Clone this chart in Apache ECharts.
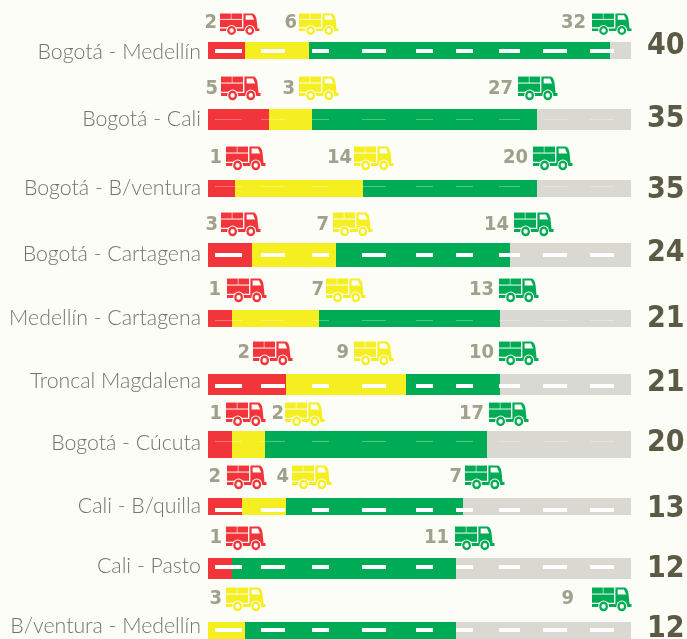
<!DOCTYPE html>
<html>
<head>
<meta charset="utf-8">
<title>Rutas</title>
<style>
  html, body { margin: 0; padding: 0; background: #fcfdf7; }
  #chart { width: 687px; height: 639px; }
</style>
<script src="https://cdn.jsdelivr.net/npm/echarts@6/dist/echarts.min.js"></script>
</head>
<body>
<div id="chart"></div>
<script>
// routes, top to bottom
const routes = ["Bogotá - Medellín", "Bogotá - Cali", "Bogotá - B/ventura", "Bogotá - Cartagena",
  "Medellín - Cartagena", "Troncal Magdalena", "Bogotá - Cúcuta", "Cali - B/quilla", "Cali - Pasto", "B/ventura - Medellín"];
const totals = [40, 35, 35, 24, 21, 21, 20, 13, 12, 12];

// truck counts printed above the road
const redTrucks = [2, 5, 1, 3, 1, 2, 1, 2, 1, null];
const yellowTrucks = [6, 3, 14, 7, 7, 9, 2, 4, null, 3];
const greenTrucks = [32, 27, 20, 14, 13, 10, 17, 7, 11, 9];

// road segment lengths, axis runs 0-423
const redRoad = [37, 61, 27, 44, 24, 78, 24, 34, 24, 0];
const yellowRoad = [64, 43, 128, 84, 87, 120, 33, 44, 0, 37];
const greenRoad = [301, 225, 174, 174, 181, 94, 222, 177, 224, 211];
const greyRoad = [21, 94, 94, 121, 131, 131, 144, 168, 175, 175];

const COLORS = { red: "#f2353b", yellow: "#f5ee21", green: "#00ab55", grey: "#d9d9d2" };
const BG = "#fcfdf7";

// layout of each row, not data
const rowShift = [0, 4.56, 9.11, 11.17, 10.22, 11.78, 7.33, 4.89, 2.44, 0];
const rowHeight = [17, 21, 17, 24, 17, 21, 27, 17, 21, 17];
const thickDash = [true, false, false, true, false, true, false, true, true, true];
const dashShift = [0.5, 0, -2, 0, 2, 1.5, -3, 3.5, -1.5, -0.5];
const dashFrom = [7, 53, 104, 154, 208, 248, 291, 335, 382];
const dashTo = [34, 77, 121, 178, 225, 265, 312, 359, 406];
const labelShift = [1.5, -0.5, 0, -1, -0.5, -3.5, -1.5, 0, -2.5, -4.5];
const totalShift = [-4.5, -0.5, 1.5, -2, 0.5, -1.5, -1.5, 2.5, 0.5, -1.5];
const truckShift = [-37.5, -43.5, -42.5, -43, -40.5, -43.5, -42.5, -41.5, -42.5, -43.5];
const truckStretch = [1, 1.11, 1.11, 1.11, 1.11, 1.11, 1.11, 1.11, 1.11, 1.11];
const digitDrop = [10, 12.5, 12, 12.5, 12, 12, 12, 12, 12, 12];

// where trucks and their numbers sit, measured along the road
const redTruckAt = [12, 13, 18, 13, 19, 45, 18, 19, 18, null];
const yellowTruckAt = [91, 91, 146, 125, 118, 146, 77, 84, null, 18];
const greenTruckAt = [384, 310, 325, 306, 291, 291, 281, 257, 247, 384];
const redDigitAt = [9, 10, 14, 10, 13, 42, 14, 13, 14, null];
const yellowDigitAt = [89, 87, 144, 121, 116, 141, 76, 81, null, 14];
const greenDigitAt = [378, 305, 320, 301, 286, 286, 276, 254, 241, 366];

const DIGIT_COLOR = "#a0a08c";
const TOTAL_COLOR = "#5b5a45";
const LABEL_COLOR = "#74746a";
const TOTAL_X = 439;  // along the axis, past the road end
const LABEL_X = -7;

function rowY(api, i) {
  return api.coord([0, i])[1] + rowShift[i];
}

function roadSeries(name, values, starts, color) {
  return {
    name,
    type: "custom",
    silent: true,
    data: values.map((v, i) => [starts[i], v, i]),
    renderItem(params, api) {
      const i = api.value(2);
      if (!api.value(1)) return null;
      const x0 = api.coord([api.value(0), i])[0];
      const x1 = api.coord([api.value(0) + api.value(1), i])[0];
      return {
        type: "rect",
        shape: { x: x0, y: Math.round(rowY(api, i) - rowHeight[i] / 2), width: x1 - x0, height: rowHeight[i] },
        style: { fill: color },
      };
    },
  };
}

function truck(x, y, stretch, color) {
  const wheel = (cx) => [
    { type: "circle", shape: { cx, cy: 17.5, r: 5.4 }, style: { fill: BG } },
    { type: "ring", shape: { cx, cy: 17.5, r: 4.4, r0: 2.2 }, style: { fill: color } },
  ];
  return {
    type: "group",
    x,
    y,
    scaleY: stretch,
    children: [
      { type: "rect", shape: { x: 0, y: 0.5, width: 10.8, height: 5.4 }, style: { fill: color } },
      { type: "rect", shape: { x: 11.4, y: 0.5, width: 10.6, height: 5.4 }, style: { fill: color } },
      { type: "rect", shape: { x: 0, y: 6.8, width: 22, height: 7.4 }, style: { fill: color } },
      { type: "rect", shape: { x: 0, y: 15.4, width: 39.5, height: 2.6 }, style: { fill: color } },
      {
        type: "path",
        shape: { pathData: "M23.4 0.5 L33 0.5 Q35.5 1.5 36.5 6 L37.6 16 L23.4 16 Z", layout: "none" },
        style: { fill: color },
      },
      {
        type: "path",
        shape: { pathData: "M25.6 2.2 L32 2.2 L34.2 6.8 L25.6 6.8 Z", layout: "none" },
        style: { fill: BG },
      },
      ...wheel(11.6),
      ...wheel(29.8),
    ],
  };
}

function truckSeries(name, counts, truckAt, digitAt, color) {
  return {
    name,
    type: "custom",
    silent: true,
    clip: false,
    data: counts.map((c, i) => [truckAt[i], digitAt[i], i, c]),
    renderItem(params, api) {
      const i = params.dataIndex;
      const c = counts[i];
      if (c == null) return null;
      const base = rowY(api, i) + truckShift[i];
      return {
        type: "group",
        children: [
          truck(api.coord([truckAt[i], i])[0], base, truckStretch[i], color),
          {
            type: "text",
            style: {
              text: String(c),
              x: api.coord([digitAt[i], i])[0],
              y: base + digitDrop[i],
              textAlign: "right",
              textVerticalAlign: "middle",
              font: "bold 20px 'DejaVu Sans Condensed', 'DejaVu Sans'",
              fill: DIGIT_COLOR,
            },
          },
        ],
      };
    },
  };
}

const greenStart = redRoad.map((v, i) => v + yellowRoad[i]);
const greyStart = greenStart.map((v, i) => v + greenRoad[i]);

const option = {
  animation: false,
  backgroundColor: BG,
  grid: { left: 208, top: 18.28, width: 423, height: 644.44, outerBoundsMode: "none" },
  xAxis: { type: "value", min: 0, max: 423, show: false },
  yAxis: { type: "category", data: routes, inverse: true, show: false },
  series: [
    roadSeries("Rojo", redRoad, routes.map(() => 0), COLORS.red),
    roadSeries("Amarillo", yellowRoad, redRoad, COLORS.yellow),
    roadSeries("Verde", greenRoad, greenStart, COLORS.green),
    roadSeries("Resto", greyRoad, greyStart, COLORS.grey),
    {
      name: "Carril",
      type: "custom",
      silent: true,
      data: routes.map((r, i) => i),
      renderItem(params, api) {
        const i = params.dataIndex;
        const h = thickDash[i] ? 4 : 1;
        const y = Math.round(rowY(api, i) + dashShift[i] - h / 2);
        return {
          type: "group",
          children: dashFrom.map((from, d) => {
            const x0 = api.coord([from, i])[0];
            const x1 = api.coord([dashTo[d], i])[0];
            return {
              type: "rect",
              shape: { x: x0, y, width: x1 - x0, height: h },
              style: { fill: thickDash[i] ? "#ffffff" : "rgba(255,255,255,0.3)" },
            };
          }),
        };
      },
    },
    truckSeries("Camiones rojo", redTrucks, redTruckAt, redDigitAt, COLORS.red),
    truckSeries("Camiones amarillo", yellowTrucks, yellowTruckAt, yellowDigitAt, COLORS.yellow),
    truckSeries("Camiones verde", greenTrucks, greenTruckAt, greenDigitAt, COLORS.green),
    {
      name: "Textos",
      type: "custom",
      silent: true,
      clip: false,
      data: routes.map((r, i) => i),
      renderItem(params, api) {
        const i = params.dataIndex;
        const y = rowY(api, i);
        return {
          type: "group",
          children: [
            {
              type: "text",
              style: {
                text: routes[i],
                x: api.coord([LABEL_X, i])[0],
                y: y + labelShift[i],
                textAlign: "right",
                textVerticalAlign: "middle",
                font: "300 21.3px Lato",
                fill: LABEL_COLOR,
              },
            },
            {
              type: "text",
              style: {
                text: String(totals[i]),
                x: api.coord([TOTAL_X, i])[0],
                y: y + totalShift[i],
                textAlign: "left",
                textVerticalAlign: "middle",
                font: "bold 30px 'DejaVu Sans Condensed', 'DejaVu Sans'",
                fill: TOTAL_COLOR,
              },
            },
          ],
        };
      },
    },
  ],
};

const myChart = echarts.init(document.getElementById("chart"));
myChart.setOption(option);
</script>
</body>
</html>
